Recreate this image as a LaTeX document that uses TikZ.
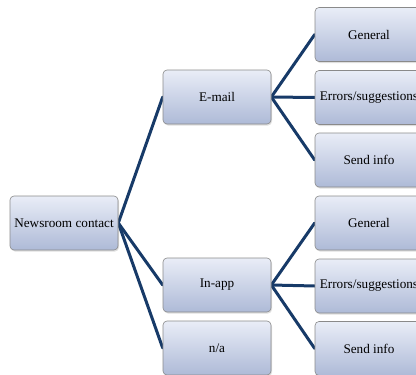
\documentclass[tikz,border=0pt]{standalone}
\usepackage{fontspec}
\setmainfont{Liberation Serif}
\usetikzlibrary{shadows,backgrounds}
\definecolor{linknavy}{HTML}{173A68}
\definecolor{boxtop}{HTML}{E9EDF7}
\definecolor{boxbot}{HTML}{AEBAD7}
\definecolor{boxedge}{HTML}{8A8A8A}
\tikzset{
  card/.style={draw=boxedge, line width=0.6pt, rounded corners=4pt,
    top color=boxtop, bottom color=boxbot,
    minimum width=108pt, minimum height=54pt, inner sep=0pt,
    font=\fontsize{13.2}{15}\selectfont,
    drop shadow={opacity=0.25, shadow xshift=1pt, shadow yshift=-1.5pt}},
  link/.style={draw=linknavy, line width=3pt, line cap=round}
}
\begin{document}
\begin{tikzpicture}[x=1pt,y=-1pt]
\useasboundingbox (0,0) rectangle (416,375);
\clip (0,0) rectangle (416,375);
\node[card] (root) at (64,223) {Newsroom contact};
\node[card] (email) at (217,97) {E-mail};
\node[card] (inapp) at (217,285) {In-app};
\node[card] (na) at (217,348) {n/a};
\node[card] (eg) at (369,34.5) {General};
\node[card] (ee) at (369,97.5) {Errors/suggestions};
\node[card] (es) at (369,160) {Send info};
\node[card] (ig) at (369,223) {General};
\node[card] (ie) at (369,286) {Errors/suggestions};
\node[card] (is) at (369,348.5) {Send info};
\begin{pgfonlayer}{background}
\draw[link] (root.east) -- (email.west);
\draw[link] (root.east) -- (inapp.west);
\draw[link] (root.east) -- (na.west);
\draw[link] (email.east) -- (eg.west);
\draw[link] (email.east) -- (ee.west);
\draw[link] (email.east) -- (es.west);
\draw[link] (inapp.east) -- (ig.west);
\draw[link] (inapp.east) -- (ie.west);
\draw[link] (inapp.east) -- (is.west);
\end{pgfonlayer}
\end{tikzpicture}
\end{document}
